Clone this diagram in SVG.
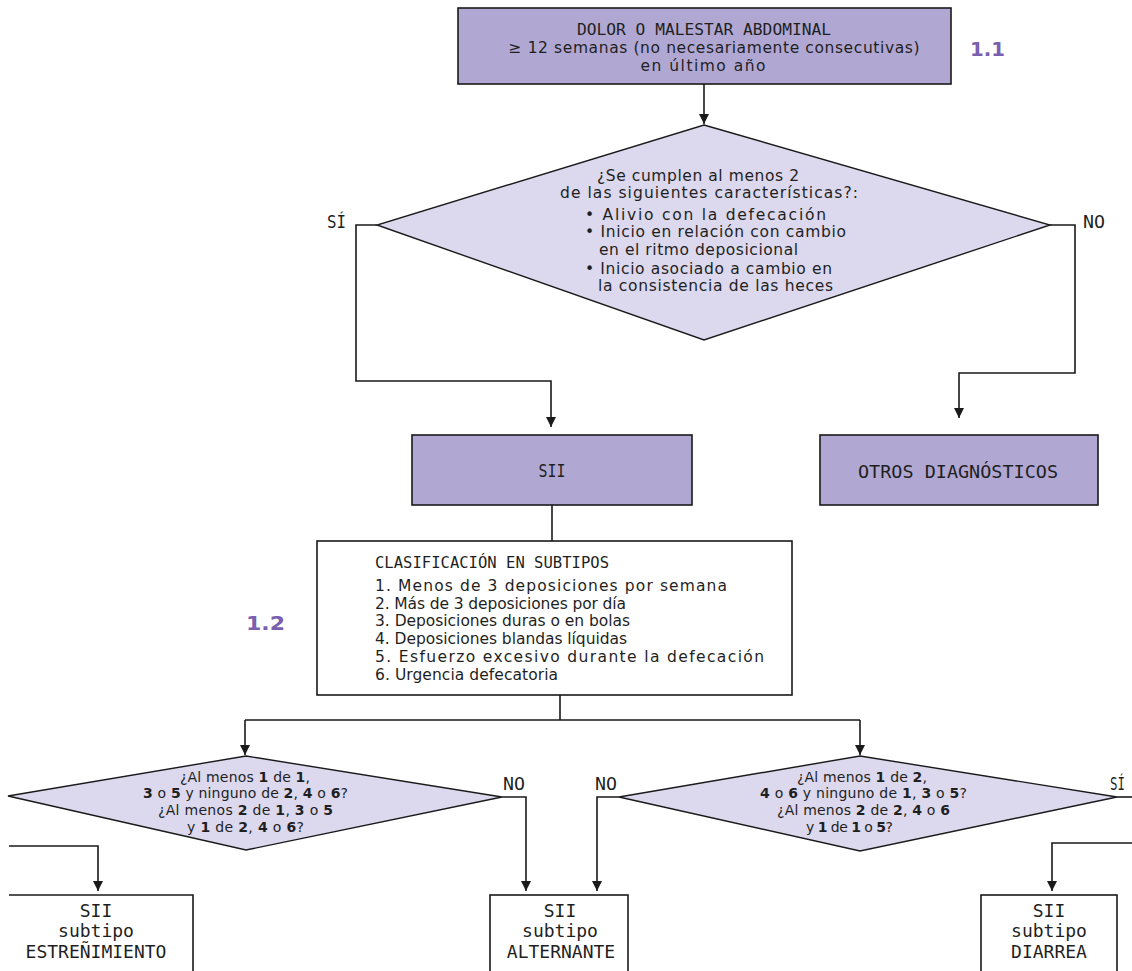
<svg xmlns="http://www.w3.org/2000/svg" width="1132" height="971" viewBox="0 0 1132 971">
<defs>
<marker id="arr" viewBox="0 0 10 10" refX="10" refY="5" markerWidth="10" markerHeight="10" markerUnits="userSpaceOnUse" orient="auto">
<path d="M0,0 L10,5 L0,10 Z" fill="#1a1a1a"/>
</marker>
<style>
.box{fill:#b0a8d3;stroke:#1a1a1a;stroke-width:1.6}
.dia{fill:#dcd8ee;stroke:#1a1a1a;stroke-width:1.4}
.wbox{fill:#ffffff;stroke:#1a1a1a;stroke-width:1.6}
.ln{fill:none;stroke:#1a1a1a;stroke-width:1.6}
.ar{fill:none;stroke:#1a1a1a;stroke-width:1.6;marker-end:url(#arr)}
text{font-family:"DejaVu Sans","Liberation Sans",sans-serif;fill:#1f1f1f}
.cap{font-family:"DejaVu Sans Mono","Liberation Mono",monospace;font-size:16px}
.lab{font-family:"DejaVu Sans Mono","Liberation Mono",monospace;font-size:17px}
.t{font-size:15.5px}
.d{font-size:15.5px}
.s{font-size:14px}
.m{font-family:"DejaVu Sans Mono","Liberation Mono",monospace;font-size:18px}
.num{font-size:20px;font-weight:bold;fill:#7a5fb0}
.c{text-anchor:middle}
</style>
</defs>
<rect width="1132" height="971" fill="#ffffff"/>

<g id="connectors">
<path class="ar" d="M704,84 V124"/>
<path class="ar" d="M377,225 H356 V381 H551 V427"/>
<path class="ar" d="M1050,225 H1075 V373 H959 V418"/>
<path class="ln" d="M552,505 V541"/>
<path class="ln" d="M560,695 V720 M245,720 H860"/>
<path class="ar" d="M245,720 V755"/>
<path class="ar" d="M860,720 V755"/>
<path class="ar" d="M502,797 H526 V891"/>
<path class="ar" d="M9,846 H98 V891"/>
<path class="ar" d="M619,797 H597 V891"/>
<path class="ln" d="M1117,797 H1132"/>
<path class="ar" d="M1132,843 H1052 V891"/>
</g>

<g id="n-dolor">
<rect class="box" x="458" y="8" width="493" height="76"/>
<text class="cap c" x="704" y="35" textLength="254" lengthAdjust="spacingAndGlyphs">DOLOR O MALESTAR ABDOMINAL</text>
<text class="t c" x="714" y="53" textLength="411">≥ 12 semanas (no necesariamente consecutivas)</text>
<text class="t c" x="703" y="71" textLength="125">en último año</text>
</g>
<text id="lbl-11" class="num" x="970" y="56" textLength="35" lengthAdjust="spacingAndGlyphs">1.1</text>

<g id="n-criterios">
<polygon class="dia" points="704,125 1050,225 704,340 377,225"/>
<text class="d" x="597" y="181" textLength="202">¿Se cumplen al menos 2</text>
<text class="d" x="560" y="198" textLength="298">de las siguientes características?:</text>
<text class="d" x="585" y="220" textLength="241">• Alivio con la defecación</text>
<text class="d" x="585" y="237" textLength="261">• Inicio en relación con cambio</text>
<text class="d" x="599" y="255" textLength="199">en el ritmo deposicional</text>
<text class="d" x="585" y="274" textLength="247">• Inicio asociado a cambio en</text>
<text class="d" x="598" y="291" textLength="235">la consistencia de las heces</text>
</g>
<text id="lbl-si1" class="lab" x="327" y="228" textLength="19" lengthAdjust="spacingAndGlyphs">SÍ</text>
<text id="lbl-no1" class="lab" x="1083" y="228" textLength="22" lengthAdjust="spacingAndGlyphs">NO</text>

<g id="n-sii">
<rect class="box" x="412" y="435" width="280" height="70"/>
<text class="lab c" x="552" y="477" textLength="27" lengthAdjust="spacingAndGlyphs">SII</text>
</g>

<g id="n-otros">
<rect class="box" x="820" y="435" width="278" height="70"/>
<text class="lab c" x="958" y="478" textLength="200" lengthAdjust="spacingAndGlyphs">OTROS DIAGNÓSTICOS</text>
</g>

<g id="n-clasif">
<rect class="wbox" x="317" y="541" width="475" height="154"/>
<text class="cap" x="375" y="568" textLength="234" lengthAdjust="spacingAndGlyphs">CLASIFICACIÓN EN SUBTIPOS</text>
<text class="t" x="375" y="591" textLength="352">1. Menos de 3 deposiciones por semana</text>
<text class="t" x="375" y="609" textLength="251">2. Más de 3 deposiciones por día</text>
<text class="t" x="375" y="626" textLength="255">3. Deposiciones duras o en bolas</text>
<text class="t" x="375" y="644" textLength="252">4. Deposiciones blandas líquidas</text>
<text class="t" x="375" y="662" textLength="389">5. Esfuerzo excesivo durante la defecación</text>
<text class="t" x="375" y="680" textLength="183">6. Urgencia defecatoria</text>
</g>
<text id="lbl-12" class="num" x="246" y="630" textLength="39" lengthAdjust="spacingAndGlyphs">1.2</text>

<g id="n-dia-estr">
<polygon class="dia" points="246,756 502,797 246,850 8,796"/>
<text class="s" x="180" y="782" textLength="130">¿Al menos <tspan font-weight="bold">1</tspan> de <tspan font-weight="bold">1</tspan>,</text>
<text class="s" x="143" y="798" textLength="205"><tspan font-weight="bold">3</tspan> o <tspan font-weight="bold">5</tspan> y ninguno de <tspan font-weight="bold">2</tspan>, <tspan font-weight="bold">4</tspan> o <tspan font-weight="bold">6</tspan>?</text>
<text class="s" x="158" y="815" textLength="175">¿Al menos <tspan font-weight="bold">2</tspan> de <tspan font-weight="bold">1</tspan>, <tspan font-weight="bold">3</tspan> o <tspan font-weight="bold">5</tspan></text>
<text class="s" x="187" y="832" textLength="117">y <tspan font-weight="bold">1</tspan> de <tspan font-weight="bold">2</tspan>, <tspan font-weight="bold">4</tspan> o <tspan font-weight="bold">6</tspan>?</text>
</g>
<text id="lbl-no2" class="lab" x="503" y="790" textLength="22" lengthAdjust="spacingAndGlyphs">NO</text>

<g id="n-dia-diar">
<polygon class="dia" points="860,756 1117,797 860,851 619,797"/>
<text class="s" x="797" y="782" textLength="130">¿Al menos <tspan font-weight="bold">1</tspan> de <tspan font-weight="bold">2</tspan>,</text>
<text class="s" x="760" y="798" textLength="207"><tspan font-weight="bold">4</tspan> o <tspan font-weight="bold">6</tspan> y ninguno de <tspan font-weight="bold">1</tspan>, <tspan font-weight="bold">3</tspan> o <tspan font-weight="bold">5</tspan>?</text>
<text class="s" x="777" y="815" textLength="173">¿Al menos <tspan font-weight="bold">2</tspan> de <tspan font-weight="bold">2</tspan>, <tspan font-weight="bold">4</tspan> o <tspan font-weight="bold">6</tspan></text>
<text class="s" x="806" y="832" textLength="87">y <tspan font-weight="bold">1</tspan> de <tspan font-weight="bold">1</tspan> o <tspan font-weight="bold">5</tspan>?</text>
</g>
<text id="lbl-no3" class="lab" x="595" y="790" textLength="22" lengthAdjust="spacingAndGlyphs">NO</text>
<text id="lbl-si3" class="lab" x="1110" y="790" textLength="15" lengthAdjust="spacingAndGlyphs">SÍ</text>

<g id="n-estr">
<path class="wbox" d="M9,895 H193 V990 H9"/>
<text class="m c" x="96" y="917">SII</text>
<text class="m c" x="96" y="937">subtipo</text>
<text class="m c" x="96" y="958">ESTREÑIMIENTO</text>
</g>

<g id="n-alt">
<rect class="wbox" x="490" y="895" width="138" height="100"/>
<text class="m c" x="560" y="917">SII</text>
<text class="m c" x="560" y="937">subtipo</text>
<text class="m c" x="561" y="958">ALTERNANTE</text>
</g>

<g id="n-diar">
<rect class="wbox" x="981" y="895" width="136" height="100"/>
<text class="m c" x="1049" y="917">SII</text>
<text class="m c" x="1049" y="937">subtipo</text>
<text class="m c" x="1049" y="958">DIARREA</text>
</g>
</svg>
